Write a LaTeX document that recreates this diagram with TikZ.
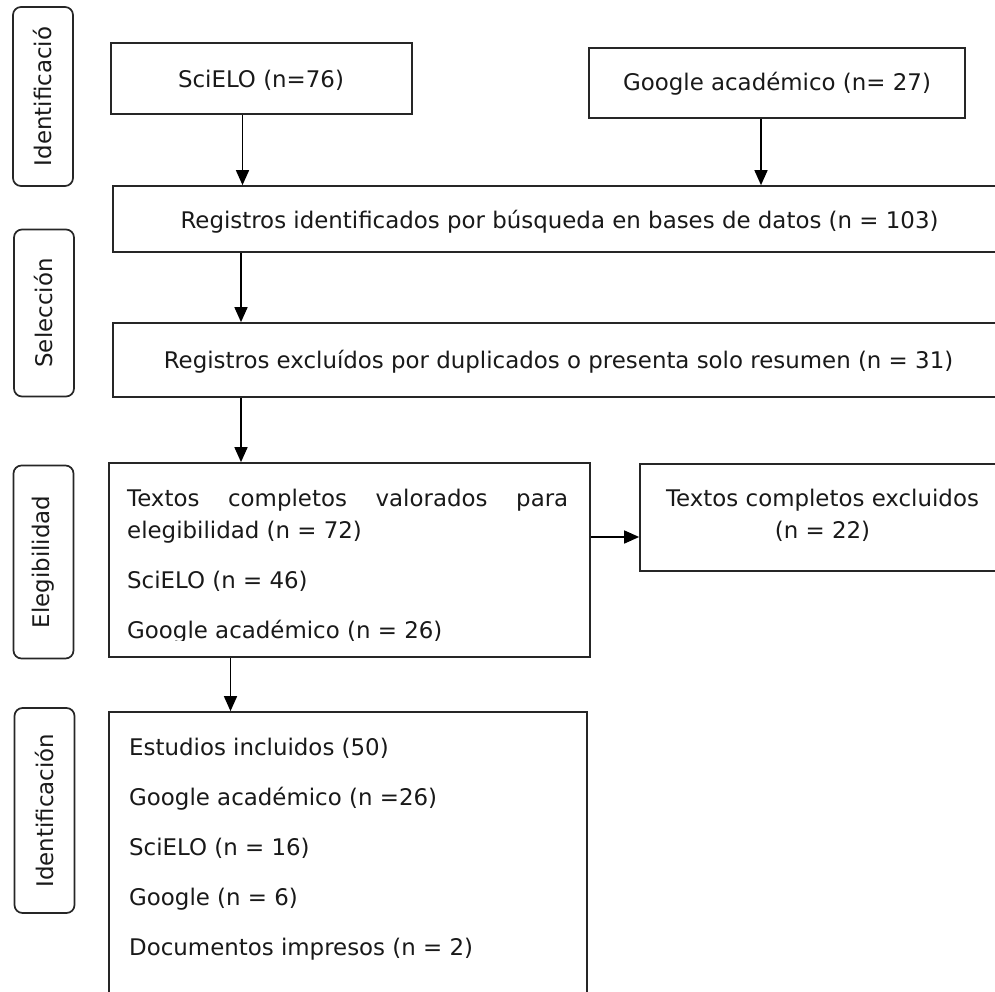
\documentclass[tikz,border=0pt]{standalone}
\usepackage{fontspec}
\setmainfont{DejaVu Sans}
\usetikzlibrary{arrows.meta}
\tikzset{
  box/.style={draw=black!85, line width=1.7pt, rectangle, inner sep=0pt},
  side/.style={draw=black!85, line width=1.7pt, rounded corners=8pt, rectangle, inner sep=0pt, minimum height=60pt, rotate=90, text=black!90},
  txt/.style={inner sep=0pt, text=black!90},
  arr/.style={draw=black, line width=1.6pt, -{Triangle[length=15pt,width=13pt]}},
}
\begin{document}
\begin{tikzpicture}[x=1pt,y=-1pt, font=\fontsize{22.9}{27}\selectfont]
\useasboundingbox (0,0) rectangle (995,992);
\clip (0,0) rectangle (995,992);
\fill[white] (0,0) rectangle (995,992);

% side labels
\node[side, minimum width=179pt] (s1) at (43,96.5) {Identificació};
\node[side, minimum width=167pt] (s2) at (44,313) {Selección};
\node[side, minimum width=193pt] (s3) at (43.5,562) {Elegibilidad};
\node[side, minimum width=205pt] (s4) at (44.5,810.5) {Identificación};

% boxes
\node[box, minimum width=301pt, minimum height=71pt] (scielo) at (261.5,78.5) {};
\node[box, minimum width=376pt, minimum height=70pt] (google) at (777,83) {};
\node[box, minimum width=893pt, minimum height=66pt] (reg1) at (559.5,219) {};
\node[box, minimum width=891pt, minimum height=74pt] (reg2) at (558.5,360) {};
\node[box, minimum width=481pt, minimum height=194pt] (textos) at (349.5,560) {};
\node[box, minimum width=365pt, minimum height=107pt] (excl) at (822.5,517.5) {};
\node[box, minimum width=478pt, minimum height=298pt] (final) at (348,861) {};

% texts
\node[txt, anchor=base] (t1) at (261,88) {SciELO (n=76)};
\node[txt, anchor=base] (t2) at (777,91) {Google académico (n= 27)};
\node[txt, anchor=base] (t3) at (559.5,229) {Registros identificados por búsqueda en bases de datos (n = 103)};
\node[txt, anchor=base] (t4) at (558.5,368) {Registros excluídos por duplicados o presenta solo resumen (n = 31)};
\node[txt, anchor=base west] (t5) at (127,506) {\makebox[441pt][s]{Textos completos valorados para}};
\node[txt, anchor=base west] (t6) at (127,538) {elegibilidad (n = 72)};
\node[txt, anchor=base west] (t7) at (127,588) {SciELO (n = 46)};
\begin{scope}
\clip (110,600) rectangle (589,640.5);
\node[txt, anchor=base west] (t8) at (127,638) {Google académico (n = 26)};
\end{scope}
\node[txt, anchor=base] (t9) at (822.5,506) {Textos completos excluidos};
\node[txt, anchor=base] (t10) at (822.5,538) {(n = 22)};
\node[txt, anchor=base west] (t11) at (129,755) {Estudios incluidos (50)};
\node[txt, anchor=base west] (t12) at (129,805) {Google académico (n =26)};
\node[txt, anchor=base west] (t13) at (129,855) {SciELO (n = 16)};
\node[txt, anchor=base west] (t14) at (129,905) {Google (n = 6)};
\node[txt, anchor=base west] (t15) at (129,955) {Documentos impresos (n = 2)};

% arrows
\coordinate (c1) at (242.5,0);
\coordinate (c2) at (761,0);
\coordinate (c3) at (241,0);
\coordinate (c4) at (0,537);
\coordinate (c5) at (230.5,0);
\draw[arr] (scielo.south -| c1) -- (reg1.north -| c1);
\draw[arr] (google.south -| c2) -- (reg1.north -| c2);
\draw[arr] (reg1.south -| c3) -- (reg2.north -| c3);
\draw[arr] (reg2.south -| c3) -- (textos.north -| c3);
\draw[arr] (textos.east |- c4) -- (excl.west |- c4);
\draw[arr] (textos.south -| c5) -- (final.north -| c5);
\end{tikzpicture}
\end{document}
